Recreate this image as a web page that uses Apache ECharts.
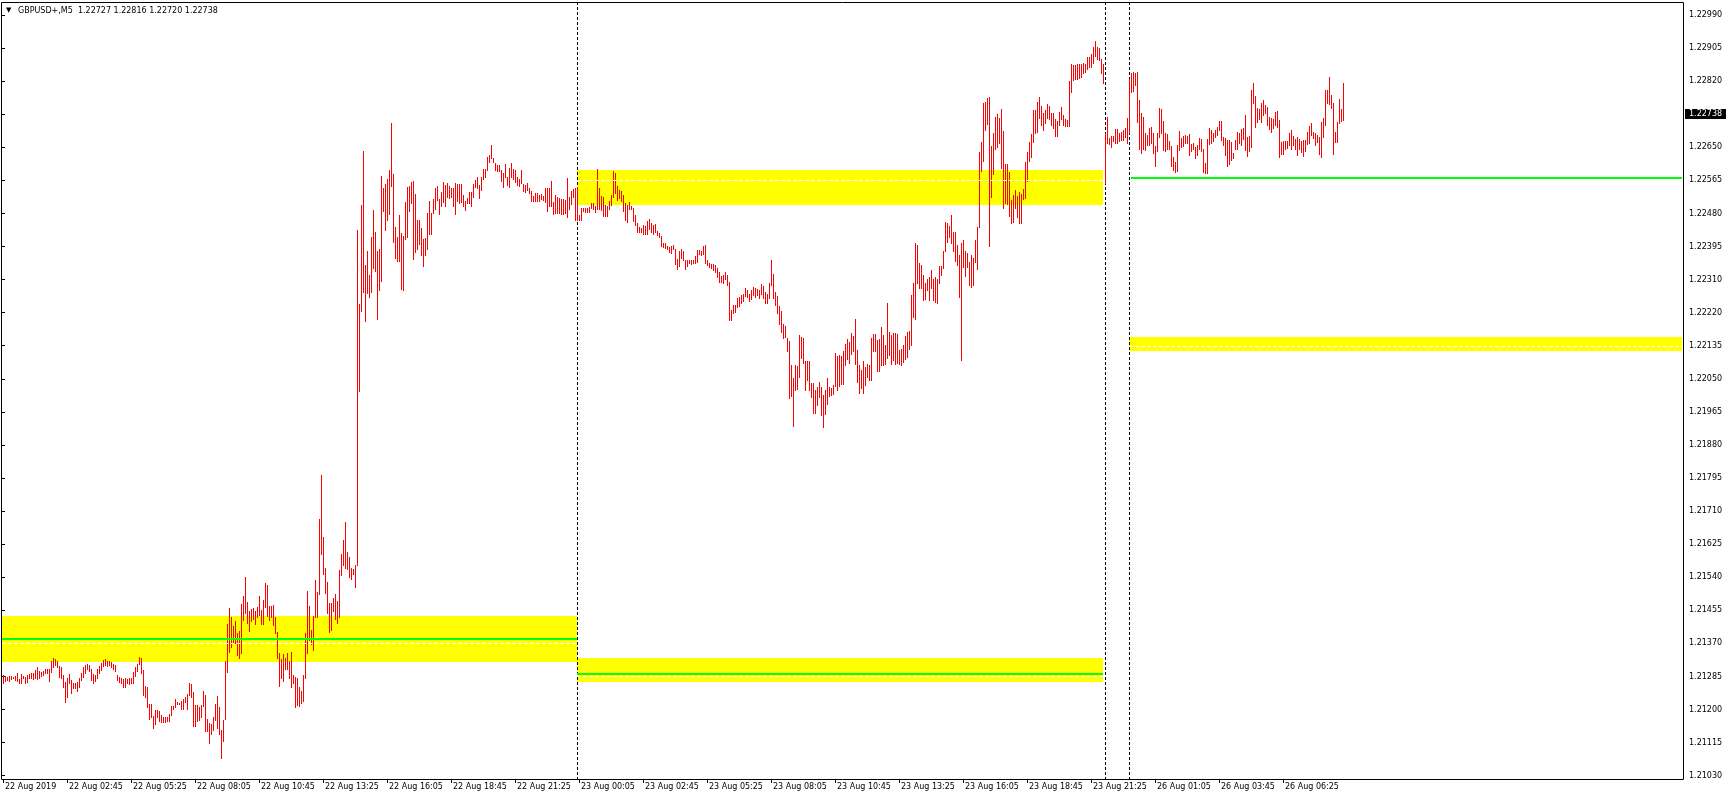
<!DOCTYPE html>
<html><head><meta charset="utf-8">
<script src="https://cdn.jsdelivr.net/npm/echarts/dist/echarts.min.js"></script>
<style>html,body{margin:0;padding:0;background:#fff}#chart{width:1729px;height:800px}</style>
</head><body><div id="chart"></div>
<script>
const symbolName = 'GBPUSD+,M5';
const lastBarOHLC = [1.22727, 1.22816, 1.22720, 1.22738];
const xTickLabels = ['22 Aug 2019','22 Aug 02:45','22 Aug 05:25','22 Aug 08:05','22 Aug 10:45','22 Aug 13:25','22 Aug 16:05','22 Aug 18:45','22 Aug 21:25','23 Aug 00:05','23 Aug 02:45','23 Aug 05:25','23 Aug 08:05','23 Aug 10:45','23 Aug 13:25','23 Aug 16:05','23 Aug 18:45','23 Aug 21:25','26 Aug 01:05','26 Aug 03:45','26 Aug 06:25'];
const xTickEvery = 32;
const yTickLabels = ['1.21030','1.21115','1.21200','1.21285','1.21370','1.21455','1.21540','1.21625','1.21710','1.21795','1.21880','1.21965','1.22050','1.22135','1.22220','1.22310','1.22395','1.22480','1.22565','1.22650','1.22735','1.22820','1.22905','1.22990'];
const priceRange = [1.210215, 1.230235];
const slotCount = 840;

const barHigh = [
1.21289,1.21287,1.21285,1.21287,1.21287,1.21285,1.21287,1.21294,1.21278,1.21292,
1.21287,1.21285,1.21289,1.21292,1.21294,1.21294,1.21302,1.21309,1.21300,1.21298,
1.21300,1.21306,1.21306,1.21306,1.21326,1.21333,1.21331,1.21326,1.21312,1.21311,
1.21289,1.21272,1.21281,1.21292,1.21276,1.21268,1.21268,1.21272,1.21283,1.21295,
1.21309,1.21315,1.21319,1.21315,1.21306,1.21292,1.21289,1.21306,1.21312,1.21321,
1.21328,1.21330,1.21326,1.21326,1.21324,1.21319,1.21315,1.21289,1.21285,1.21281,
1.21278,1.21281,1.21280,1.21281,1.21281,1.21298,1.21309,1.21319,1.21335,1.21332,
1.21302,1.21261,1.21258,1.21216,1.21216,1.21184,1.21199,1.21199,1.21197,1.21186,
1.21180,1.21180,1.21180,1.21189,1.21209,1.21209,1.21227,1.21221,1.21218,1.21223,
1.21227,1.21233,1.21240,1.21268,1.21266,1.21246,1.21212,1.21212,1.21208,1.21212,
1.21249,1.21238,1.21175,1.21165,1.21163,1.21182,1.21215,1.21235,1.21208,1.21149,
1.21173,1.21326,1.21421,1.21461,1.21438,1.21416,1.21429,1.21397,1.21404,1.21472,
1.21493,1.21543,1.21478,1.21455,1.21459,1.21461,1.21455,1.21464,1.21493,1.21457,
1.21483,1.21526,1.21522,1.21467,1.21467,1.21470,1.21438,1.21400,1.21347,1.21330,
1.21343,1.21333,1.21345,1.21326,1.21350,1.21289,1.21285,1.21283,1.21259,1.21249,
1.21289,1.21398,1.21507,1.21467,1.21405,1.21441,1.21534,1.21504,1.21692,1.21805,
1.21644,1.21565,1.21530,1.21476,1.21474,1.21487,1.21498,1.21481,1.21560,1.21601,
1.21637,1.21684,1.21607,1.21594,1.21564,1.21562,1.21573,1.22436,1.22245,1.22500,
1.22640,1.22346,1.22382,1.22320,1.22419,1.22488,1.22431,1.22383,1.22386,1.22575,
1.22544,1.22555,1.22567,1.22591,1.22712,1.22580,1.22445,1.22419,1.22475,1.22429,
1.22421,1.22509,1.22548,1.22549,1.22561,1.22563,1.22529,1.22462,1.22463,1.22442,
1.22414,1.22416,1.22481,1.22511,1.22481,1.22515,1.22544,1.22549,1.22515,1.22535,
1.22559,1.22552,1.22558,1.22549,1.22545,1.22545,1.22558,1.22555,1.22554,1.22555,
1.22526,1.22512,1.22518,1.22534,1.22534,1.22555,1.22565,1.22572,1.22552,1.22572,
1.22592,1.22592,1.22624,1.22628,1.22655,1.22621,1.22608,1.22603,1.22603,1.22591,
1.22584,1.22606,1.22573,1.22596,1.22608,1.22592,1.22591,1.22572,1.22567,1.22591,
1.22555,1.22551,1.22558,1.22544,1.22537,1.22524,1.22532,1.22532,1.22527,1.22529,
1.22524,1.22544,1.22544,1.22544,1.22562,1.22509,1.22526,1.22522,1.22518,1.22515,
1.22515,1.22513,1.22570,1.22520,1.22537,1.22541,1.22543,1.22548,1.22475,1.22494,
1.22494,1.22494,1.22494,1.22496,1.22505,1.22505,1.22498,1.22593,1.22544,1.22524,
1.22520,1.22500,1.22498,1.22512,1.22526,1.22588,1.22584,1.22549,1.22539,1.22537,
1.22527,1.22505,1.22500,1.22508,1.22498,1.22493,1.22475,1.22455,1.22445,1.22440,
1.22448,1.22446,1.22459,1.22464,1.22455,1.22448,1.22451,1.22434,1.22429,1.22421,
1.22403,1.22402,1.22395,1.22393,1.22395,1.22397,1.22388,1.22362,1.22382,1.22386,
1.22381,1.22360,1.22359,1.22360,1.22359,1.22359,1.22368,1.22384,1.22384,1.22383,
1.22395,1.22397,1.22359,1.22352,1.22348,1.22348,1.22346,1.22337,1.22328,1.22317,
1.22320,1.22329,1.22320,1.22303,1.22230,1.22243,1.22243,1.22260,1.22263,1.22268,
1.22271,1.22286,1.22281,1.22271,1.22281,1.22288,1.22286,1.22283,1.22281,1.22297,
1.22292,1.22277,1.22271,1.22299,1.22360,1.22323,1.22277,1.22266,1.22240,1.22228,
1.22194,1.22189,1.22157,1.22151,1.22088,1.22054,1.22088,1.22086,1.22165,1.22160,
1.22157,1.22099,1.22099,1.22099,1.22043,1.22043,1.22025,1.22032,1.22045,1.22032,
1.22011,1.22024,1.22054,1.22031,1.22030,1.22037,1.22120,1.22111,1.22114,1.22111,
1.22123,1.22142,1.22154,1.22148,1.22170,1.22163,1.22208,1.22127,1.22088,1.22075,
1.22099,1.22084,1.22092,1.22088,1.22157,1.22168,1.22168,1.22153,1.22154,1.22187,
1.22165,1.22140,1.22247,1.22174,1.22165,1.22171,1.22170,1.22168,1.22127,1.22129,
1.22140,1.22163,1.22174,1.22177,1.22269,1.22299,1.22402,1.22397,1.22350,1.22346,
1.22320,1.22300,1.22311,1.22314,1.22333,1.22311,1.22316,1.22311,1.22342,1.22342,
1.22383,1.22457,1.22455,1.22446,1.22475,1.22432,1.22432,1.22397,1.22372,1.22402,
1.22409,1.22383,1.22378,1.22354,1.22372,1.22363,1.22410,1.22445,1.22638,1.22664,
1.22762,1.22767,1.22775,1.22780,1.22652,1.22685,1.22726,1.22735,1.22724,1.22747,
1.22692,1.22606,1.22606,1.22586,1.22513,1.22526,1.22539,1.22524,1.22535,1.22530,
1.22541,1.22610,1.22638,1.22664,1.22683,1.22745,1.22745,1.22767,1.22780,1.22756,
1.22737,1.22745,1.22761,1.22756,1.22738,1.22737,1.22721,1.22718,1.22741,1.22752,
1.22732,1.22721,1.22719,1.22821,1.22865,1.22861,1.22861,1.22864,1.22865,1.22865,
1.22867,1.22865,1.22881,1.22881,1.22890,1.22907,1.22924,1.22908,1.22904,1.22876,
1.22865,1.22685,1.22728,1.22672,1.22678,1.22678,1.22697,1.22697,1.22687,1.22688,
1.22694,1.22699,1.22725,1.22824,1.22841,1.22844,1.22841,1.22844,1.22771,1.22737,
1.22726,1.22685,1.22681,1.22698,1.22702,1.22685,1.22652,1.22685,1.22750,1.22747,
1.22718,1.22685,1.22683,1.22666,1.22652,1.22625,1.22612,1.22655,1.22691,1.22672,
1.22678,1.22681,1.22678,1.22683,1.22658,1.22661,1.22651,1.22655,1.22672,1.22670,
1.22646,1.22608,1.22670,1.22700,1.22694,1.22687,1.22694,1.22702,1.22718,1.22718,
1.22676,1.22672,1.22668,1.22668,1.22664,1.22635,1.22668,1.22689,1.22685,1.22695,
1.22698,1.22732,1.22676,1.22678,1.22798,1.22814,1.22781,1.22750,1.22747,1.22762,
1.22771,1.22758,1.22752,1.22726,1.22724,1.22721,1.22741,1.22743,1.22719,1.22664,
1.22666,1.22666,1.22665,1.22685,1.22694,1.22678,1.22670,1.22676,1.22670,1.22666,
1.22668,1.22668,1.22689,1.22704,1.22711,1.22689,1.22685,1.22681,1.22676,1.22715,
1.22724,1.22798,1.22798,1.22831,1.22784,1.22762,1.22689,1.22715,1.22773,1.22747,
1.22816
];
const barLow = [
1.21268,1.21275,1.21276,1.21275,1.21278,1.21281,1.21276,1.21275,1.21269,1.21270,
1.21281,1.21270,1.21271,1.21281,1.21283,1.21278,1.21281,1.21280,1.21283,1.21287,
1.21289,1.21294,1.21294,1.21275,1.21298,1.21311,1.21315,1.21309,1.21285,1.21283,
1.21259,1.21221,1.21233,1.21268,1.21244,1.21255,1.21255,1.21249,1.21259,1.21276,
1.21285,1.21295,1.21306,1.21300,1.21276,1.21270,1.21275,1.21281,1.21294,1.21302,
1.21312,1.21315,1.21312,1.21315,1.21311,1.21306,1.21300,1.21276,1.21272,1.21268,
1.21258,1.21259,1.21270,1.21266,1.21268,1.21268,1.21287,1.21300,1.21319,1.21295,
1.21238,1.21233,1.21208,1.21175,1.21182,1.21154,1.21163,1.21182,1.21172,1.21169,
1.21169,1.21169,1.21171,1.21172,1.21186,1.21201,1.21206,1.21215,1.21215,1.21203,
1.21203,1.21221,1.21203,1.21238,1.21233,1.21158,1.21158,1.21172,1.21173,1.21180,
1.21209,1.21146,1.21146,1.21115,1.21137,1.21148,1.21173,1.21154,1.21137,1.21075,
1.21120,1.21175,1.21298,1.21350,1.21362,1.21371,1.21373,1.21341,1.21333,1.21347,
1.21431,1.21450,1.21424,1.21404,1.21429,1.21433,1.21422,1.21438,1.21444,1.21422,
1.21421,1.21464,1.21441,1.21431,1.21440,1.21418,1.21397,1.21332,1.21261,1.21281,
1.21275,1.21306,1.21306,1.21283,1.21259,1.21268,1.21206,1.21212,1.21209,1.21218,
1.21223,1.21283,1.21347,1.21380,1.21369,1.21355,1.21440,1.21440,1.21498,1.21601,
1.21550,1.21501,1.21450,1.21401,1.21405,1.21455,1.21435,1.21424,1.21438,1.21547,
1.21573,1.21564,1.21562,1.21543,1.21538,1.21550,1.21515,1.21573,1.22022,1.22228,
1.22277,1.22202,1.22273,1.22264,1.22277,1.22337,1.22331,1.22208,1.22281,1.22305,
1.22486,1.22436,1.22462,1.22476,1.22549,1.22406,1.22365,1.22357,1.22357,1.22284,
1.22281,1.22412,1.22419,1.22486,1.22506,1.22361,1.22380,1.22386,1.22400,1.22372,
1.22344,1.22372,1.22386,1.22426,1.22426,1.22481,1.22489,1.22513,1.22476,1.22498,
1.22509,1.22498,1.22522,1.22518,1.22520,1.22499,1.22478,1.22510,1.22505,1.22509,
1.22498,1.22488,1.22506,1.22506,1.22498,1.22520,1.22546,1.22543,1.22518,1.22539,
1.22567,1.22572,1.22590,1.22610,1.22621,1.22610,1.22591,1.22588,1.22588,1.22563,
1.22548,1.22572,1.22552,1.22548,1.22572,1.22567,1.22561,1.22552,1.22549,1.22558,
1.22537,1.22535,1.22539,1.22532,1.22512,1.22512,1.22512,1.22512,1.22512,1.22515,
1.22513,1.22509,1.22486,1.22498,1.22498,1.22477,1.22481,1.22481,1.22481,1.22477,
1.22477,1.22479,1.22470,1.22489,1.22503,1.22522,1.22462,1.22463,1.22462,1.22462,
1.22486,1.22483,1.22483,1.22483,1.22492,1.22489,1.22483,1.22489,1.22489,1.22488,
1.22472,1.22472,1.22472,1.22489,1.22500,1.22522,1.22532,1.22513,1.22518,1.22512,
1.22486,1.22462,1.22457,1.22489,1.22489,1.22460,1.22449,1.22432,1.22432,1.22432,
1.22427,1.22427,1.22427,1.22438,1.22432,1.22426,1.22432,1.22423,1.22417,1.22395,
1.22391,1.22389,1.22386,1.22380,1.22378,1.22386,1.22348,1.22336,1.22342,1.22363,
1.22359,1.22336,1.22343,1.22350,1.22348,1.22350,1.22352,1.22354,1.22374,1.22372,
1.22374,1.22350,1.22347,1.22340,1.22337,1.22333,1.22329,1.22316,1.22303,1.22303,
1.22300,1.22311,1.22294,1.22204,1.22204,1.22223,1.22226,1.22237,1.22240,1.22247,
1.22254,1.22266,1.22263,1.22252,1.22257,1.22269,1.22264,1.22269,1.22260,1.22271,
1.22260,1.22249,1.22247,1.22260,1.22294,1.22260,1.22243,1.22223,1.22195,1.22174,
1.22157,1.22160,1.22125,1.22002,1.22008,1.21931,1.22025,1.22027,1.22058,1.22105,
1.22094,1.22024,1.22050,1.22025,1.22005,1.21964,1.21965,1.21985,1.22007,1.21959,
1.21929,1.21962,1.21989,1.22008,1.22010,1.22013,1.22034,1.22025,1.22034,1.22039,
1.22039,1.22088,1.22103,1.22094,1.22116,1.22123,1.22092,1.22045,1.22017,1.22028,
1.22015,1.22037,1.22058,1.22050,1.22050,1.22125,1.22123,1.22074,1.22074,1.22088,
1.22088,1.22092,1.22105,1.22114,1.22092,1.22101,1.22091,1.22094,1.22091,1.22088,
1.22097,1.22103,1.22108,1.22129,1.22140,1.22213,1.22206,1.22299,1.22286,1.22286,
1.22256,1.22257,1.22281,1.22256,1.22286,1.22256,1.22251,1.22249,1.22300,1.22320,
1.22337,1.22383,1.22406,1.22419,1.22403,1.22383,1.22357,1.22346,1.22264,1.22101,
1.22340,1.22317,1.22340,1.22294,1.22290,1.22294,1.22354,1.22335,1.22443,1.22589,
1.22615,1.22694,1.22709,1.22395,1.22522,1.22580,1.22646,1.22651,1.22661,1.22595,
1.22494,1.22505,1.22503,1.22472,1.22453,1.22457,1.22492,1.22470,1.22455,1.22455,
1.22515,1.22518,1.22563,1.22615,1.22625,1.22664,1.22685,1.22689,1.22724,1.22707,
1.22694,1.22711,1.22724,1.22721,1.22707,1.22698,1.22678,1.22678,1.22707,1.22721,
1.22707,1.22704,1.22704,1.22704,1.22792,1.22823,1.22824,1.22824,1.22827,1.22831,
1.22841,1.22844,1.22850,1.22855,1.22857,1.22867,1.22884,1.22876,1.22874,1.22840,
1.22814,1.22556,1.22659,1.22658,1.22651,1.22666,1.22661,1.22661,1.22666,1.22668,
1.22668,1.22675,1.22661,1.22685,1.22792,1.22795,1.22810,1.22715,1.22646,1.22635,
1.22644,1.22642,1.22655,1.22655,1.22661,1.22635,1.22602,1.22640,1.22675,1.22685,
1.22642,1.22640,1.22646,1.22644,1.22602,1.22591,1.22586,1.22589,1.22642,1.22649,
1.22652,1.22659,1.22661,1.22629,1.22640,1.22646,1.22621,1.22629,1.22644,1.22640,
1.22586,1.22584,1.22584,1.22658,1.22659,1.22666,1.22675,1.22681,1.22694,1.22668,
1.22655,1.22629,1.22601,1.22606,1.22616,1.22621,1.22644,1.22646,1.22661,1.22655,
1.22670,1.22642,1.22627,1.22640,1.22649,1.22764,1.22702,1.22715,1.22721,1.22715,
1.22732,1.22738,1.22706,1.22695,1.22689,1.22698,1.22706,1.22702,1.22625,1.22633,
1.22633,1.22646,1.22648,1.22655,1.22646,1.22655,1.22646,1.22629,1.22644,1.22638,
1.22627,1.22640,1.22658,1.22661,1.22681,1.22672,1.22655,1.22664,1.22633,1.22625,
1.22676,1.22706,1.22762,1.22761,1.22750,1.22633,1.22664,1.22664,1.22713,1.22718,
1.22720
];

// [startBar, endBar, topPrice, bottomPrice]  (-1 / 840 = beyond the visible chart)
const zoneRects = [
  [-1, 287, 1.21441, 1.21323],
  [287, 550, 1.21333, 1.21272],
  [287, 550, 1.22591, 1.22500],
  [563, 840, 1.22160, 1.22123]
];
// [startBar, endBar, price]
const greenLevels = [
  [-1, 287, 1.21382],
  [287, 550, 1.21293],
  [564, 840, 1.22570]
];
const dashedLevels = [
  [-1, 287, 1.21372],
  [287, 550, 1.21286],
  [287, 550, 1.22564],
  [563, 840, 1.22136]
];
const separatorBars = [287, 551, 563];

const FONT = '"DejaVu Sans"';
const BAR_COLOR = '#ff0000';
const categories = Array.from({length: slotCount}, (_, i) => String(i));
const fmt = v => v.toFixed(5);
const titleText = symbolName + '  ' + lastBarOHLC.map(fmt).join(' ');
const showTick = idx => idx % xTickEvery === 0 && idx / xTickEvery < xTickLabels.length;

function clampX(x, cs) { return Math.min(Math.max(x, cs.x), cs.x + cs.width); }

const chart = echarts.init(document.getElementById('chart'), null, {renderer: 'canvas'});
chart.setOption({
  animation: false,
  backgroundColor: '#ffffff',
  grid: [
    {left: 2, right: 47, top: 2, bottom: 21, show: false},
    {left: 2, right: 46, top: 15, bottom: 24.3, show: false}
  ],
  xAxis: [
    {
      type: 'category', gridIndex: 0, data: categories, boundaryGap: true,
      axisLine: {show: false},
      axisTick: {show: true, alignWithLabel: true, interval: showTick, length: 4, lineStyle: {color: '#000', width: 1}},
      axisLabel: {
        show: true, interval: showTick, align: 'left', margin: 4,
        formatter: (val, idx) => xTickLabels[idx / xTickEvery] || '',
        fontSize: 8, fontFamily: FONT, color: '#000', padding: [0, 0, 0, 2]
      },
      splitLine: {show: false}
    },
    {type: 'value', gridIndex: 1, show: false, min: 0, max: 1}
  ],
  yAxis: [
    {type: 'value', gridIndex: 0, min: priceRange[0], max: priceRange[1], show: false, splitLine: {show: false}},
    {
      type: 'value', gridIndex: 1, position: 'right', min: 0, max: yTickLabels.length - 1, interval: 1,
      axisLine: {show: false},
      axisTick: {show: true, length: 3, lineStyle: {color: '#000', width: 1}},
      axisLabel: {show: true, margin: 6, formatter: v => yTickLabels[Math.round(v)] || '', fontSize: 8, fontFamily: FONT, color: '#000'},
      splitLine: {show: false}
    }
  ],
  graphic: [
    {type: 'rect', silent: true, z: 50, shape: {x: 1.5, y: 2.5, width: 1682, height: 777}, style: {fill: 'none', stroke: '#000', lineWidth: 1}},
    {type: 'text', silent: true, left: 6, top: 7, style: {text: '\u25BC', font: '7px ' + FONT, fill: '#000'}},
    {type: 'text', silent: true, left: 18, top: 7, style: {text: titleText, font: '8px ' + FONT, fill: '#000'}}
  ],
  series: [
    {
      type: 'custom', name: 'zones', xAxisIndex: 0, yAxisIndex: 0, z: 1, silent: true, clip: true,
      data: zoneRects,
      renderItem: (params, api) => {
        const cs = params.coordSys;
        const a = api.coord([api.value(0), api.value(2)]);
        const b = api.coord([api.value(1), api.value(3)]);
        const x0 = clampX(Math.round(a[0]), cs), x1 = clampX(Math.round(b[0]), cs);
        const y0 = Math.round(a[1]), y1 = Math.round(b[1]);
        return {type: 'rect', shape: {x: x0, y: y0, width: x1 - x0, height: y1 - y0}, style: {fill: '#ffff00'}};
      }
    },
    {
      type: 'custom', name: 'separators', xAxisIndex: 0, yAxisIndex: 0, z: 1.5, silent: true,
      data: separatorBars.map(b => [b]),
      renderItem: (params, api) => {
        const cs = params.coordSys;
        const x = Math.round(api.coord([api.value(0), priceRange[0]])[0]) + 0.5;
        return {type: 'line', shape: {x1: x, y1: cs.y, x2: x, y2: cs.y + cs.height}, style: {stroke: '#000', lineWidth: 1, lineDash: [3, 2]}};
      }
    },
    {
      type: 'custom', name: 'bars', xAxisIndex: 0, yAxisIndex: 0, z: 3, silent: true, progressive: 0,
      data: barHigh.map((h, i) => [i, barLow[i], h]),
      encode: {x: 0, y: [1, 2]},
      renderItem: (params, api) => {
        const i = api.value(0);
        const lo = api.coord([i, api.value(1)]);
        const hi = api.coord([i, api.value(2)]);
        const x = Math.round(lo[0]);
        const yTop = Math.round(hi[1]);
        const yBot = Math.round(lo[1]);
        return {type: 'rect', shape: {x: x, y: yTop, width: 1, height: Math.max(1, yBot - yTop + 1)}, style: {fill: BAR_COLOR}};
      }
    },
    {
      type: 'custom', name: 'greenLevels', xAxisIndex: 0, yAxisIndex: 0, z: 4, silent: true,
      data: greenLevels,
      renderItem: (params, api) => {
        const cs = params.coordSys;
        const a = api.coord([api.value(0), api.value(2)]);
        const b = api.coord([api.value(1), api.value(2)]);
        const x0 = clampX(Math.round(a[0]), cs), x1 = clampX(Math.round(b[0]), cs);
        const y = Math.round(a[1]);
        return {type: 'rect', shape: {x: x0, y: y - 1, width: x1 - x0, height: 2}, style: {fill: '#00ff00'}};
      }
    },
    {
      type: 'custom', name: 'dashedLevels', xAxisIndex: 0, yAxisIndex: 0, z: 4, silent: true,
      data: dashedLevels,
      renderItem: (params, api) => {
        const cs = params.coordSys;
        const a = api.coord([api.value(0), api.value(2)]);
        const b = api.coord([api.value(1), api.value(2)]);
        const x0 = clampX(Math.round(a[0]), cs), x1 = clampX(Math.round(b[0]), cs);
        const y = Math.round(a[1]) + 0.5;
        return {type: 'line', shape: {x1: x0, y1: y, x2: x1, y2: y}, style: {stroke: '#ffffff', lineWidth: 1, lineDash: [4, 2]}};
      }
    },
    {
      type: 'custom', name: 'lastPrice', xAxisIndex: 0, yAxisIndex: 0, z: 10, silent: true, clip: false,
      data: [[slotCount - 1, lastBarOHLC[3]]],
      renderItem: (params, api) => {
        const cs = params.coordSys;
        const p = api.coord([api.value(0), api.value(1)]);
        const y = Math.round(p[1]);
        const x = cs.x + cs.width + 3;
        return {
          type: 'group',
          children: [
            {type: 'rect', shape: {x: x, y: y - 4, width: 41, height: 10}, style: {fill: '#000'}},
            {type: 'text', x: x + 4, y: y + 1, style: {text: fmt(api.value(1)), fill: '#fff', font: '8px ' + FONT, textAlign: 'left', textVerticalAlign: 'middle'}}
          ]
        };
      }
    }
  ]
});
</script>
</body></html>
